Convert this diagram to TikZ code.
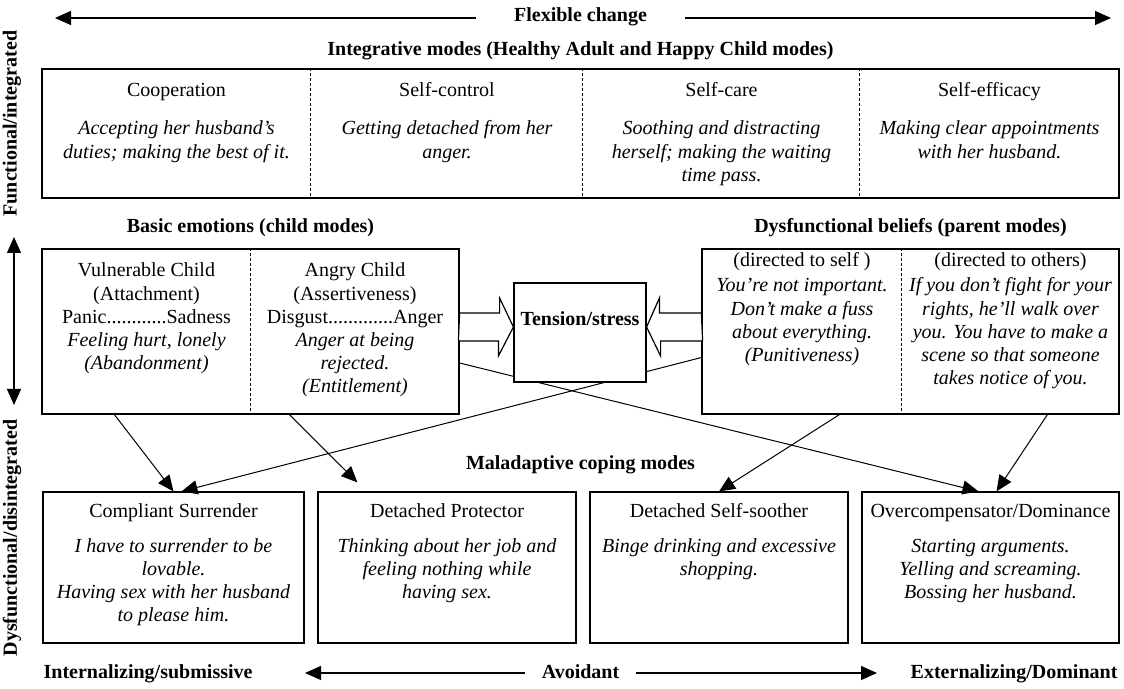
\documentclass[tikz,border=0pt]{standalone}
\usepackage{fontspec}
\setmainfont{Liberation Serif}
\usetikzlibrary{calc}
\usetikzlibrary{arrows.meta}

\begin{document}
\begin{tikzpicture}[x=0.5pt, y=-0.5pt, line width=0.6pt, >={Triangle[length=8pt,width=7pt]},
  every node/.style={font=\fontsize{10}{11.6}\selectfont},
  box/.style={draw, rectangle, inner sep=0pt},
  hd/.style={anchor=base, inner sep=0pt, font=\fontsize{10}{11.6}\selectfont\bfseries},
  col/.style={anchor=base, align=center, inner sep=0pt},
  colit/.style={col, font=\fontsize{10}{11.6}\selectfont\itshape},
  divider/.style={line width=0.4pt, dash pattern=on 1.5pt off 1pt},
  link/.style={->, line width=0.5pt}]
\useasboundingbox (0,0) rectangle (1124,689);

% top: flexible change
\node[hd, inner xsep=19pt] (flex) at (580.5,22) {Flexible change};
\coordinate (flexL) at (55,18);
\coordinate (flexR) at (1111,18);
\draw[->] (flex.west |- flexL) -- (flexL);
\draw[->] (flex.east |- flexR) -- (flexR);

% integrative modes (base = last line)
\node[hd] (integhd) at (580.5,56) {Integrative modes (Healthy Adult and Happy Child modes)};
\node[box, minimum width=538.5pt, minimum height=64.5pt] (integ) at (580.5,133.5) {};
\foreach \dx in {269,541,818}
  \draw[divider] ($(integ.north west)+(\dx,0)$) -- ($(integ.south west)+(\dx,0)$);

\node[col] (coop) at (176.5,97) {Cooperation};
\node[colit] (coopt) at (176.5,158.2) {Accepting her husband's\\duties; making the best of it.};
\node[col] (sctrl) at (447,97) {Self-control};
\node[colit] (sctrlt) at (447,158.2) {Getting detached from her\\anger.};
\node[col] (scare) at (721.5,97) {Self-care};
\node[colit] (scaret) at (721.5,181.4) {Soothing and distracting\\herself; making the waiting\\time pass.};
\node[col] (seff) at (989.5,97) {Self-efficacy};
\node[colit] (sefft) at (989.5,158.2) {Making clear appointments\\with her husband.};

% child modes
\node[hd] (emohd) at (250.5,233) {Basic emotions (child modes)};
\node[box, minimum width=208.5pt, minimum height=82.5pt] (emo) at (250.5,331.5) {};
\draw[divider] ($(emo.north west)+(209,0)$) -- ($(emo.south west)+(209,0)$);
\node[col] (vc) at (146.5,323.4) {Vulnerable Child\\(Attachment)\\Panic............Sadness};
\node[colit] (vct) at (146.5,369.8) {Feeling hurt, lonely\\(Abandonment)};
\node[col] (ac) at (355,323.4) {Angry Child\\(Assertiveness)\\Disgust.............Anger};
\node[colit] (act) at (355,393) {Anger at being\\rejected.\\(Entitlement)};

% parent modes
\node[hd] (belhd) at (910.5,233) {Dysfunctional beliefs (parent modes)};
\node[box, minimum width=208.5pt, minimum height=82.5pt] (bel) at (910.5,331.5) {};
\draw[divider] ($(bel.north west)+(200,0)$) -- ($(bel.south west)+(200,0)$);
\node[col] (dself) at (802,267) {(directed to self )};
\node[colit] (dselft) at (802,361.6) {You're not important.\\Don't make a fuss\\about everything.\\(Punitiveness)};
\node[col] (doth) at (1010.5,267) {(directed to others)};
\node[colit] (dotht) at (1010.5,384.8) {If you don't fight for your\\rights, he'll walk over\\you. You have to make a\\scene so that someone\\takes notice of you.};

% coping modes
\node[hd] (cophd) at (580.5,469) {Maladaptive coping modes};
\node[box, minimum width=130.5pt, minimum height=75.5pt] (cs) at (173.5,567.5) {};
\node[box, minimum width=129pt, minimum height=75.5pt] (dp) at (447,567.5) {};
\node[box, minimum width=129pt, minimum height=75.5pt] (dss) at (719,567.5) {};
\node[box, minimum width=128.5pt, minimum height=75.5pt] (oc) at (990.5,567.5) {};

\node[col] (csh) at (173.5,517) {Compliant Surrender};
\node[colit] (cst) at (173.5,621.6) {I have to surrender to be\\lovable.\\Having sex with her husband\\to please him.};
\node[col] (dph) at (447,517) {Detached Protector};
\node[colit] (dpt) at (447,598.4) {Thinking about her job and\\feeling nothing while\\having sex.};
\node[col] (dssh) at (719,517) {Detached Self-soother};
\node[colit] (dsst) at (719,575.2) {Binge drinking and excessive\\shopping.};
\node[col] (och) at (990.5,517) {Overcompensator/Dominance};
\node[colit] (oct) at (990.5,598.4) {Starting arguments.\\Yelling and screaming.\\Bossing her husband.};

% links to the coping modes
\draw[link] ($(emo.south west)+(73,0)$) -- (cs.north);
\draw[link] ($(emo.south west)+(248,0)$) -- ($(dp.north west)+(40,-9)$);
\draw[link] ($(bel.west)+(0,26)$) -- ($(cs.north)+(8,0)$);
\draw[link] ($(emo.east)+(0,31.5)$) -- ($(oc.north)+(-12,0)$);
\draw[link] ($(bel.south west)+(138,0)$) -- (dss.north);
\draw[link] ($(bel.south west)+(346,0)$) -- ($(oc.north)+(6,0)$);

% tension in the middle
\node[box, fill=white, minimum width=66pt, minimum height=49.5pt, font=\fontsize{10}{11.6}\selectfont\bfseries, text height=7pt, text depth=13.5pt] (stress) at (580,332.5) {Tension/stress};
\coordinate (ltip) at ($(stress.west)+(0,-5.5)$);
\coordinate (rtip) at ($(stress.east)+(0,-5.5)$);
\draw[fill=white] ($(emo.east |- ltip)+(0,-14)$) -- ++(40,0) -- ++(0,-15) -- (ltip) -- ++(-15,29) -- ++(0,-15) -- ++(-40,0) -- cycle;
\draw[fill=white] ($(bel.west |- rtip)+(0,-14)$) -- ++(-42,0) -- ++(0,-15) -- (rtip) -- ++(14,29) -- ++(0,-15) -- ++(42,0) -- cycle;

% left side
\coordinate (vtop) at (14,237);
\coordinate (vbot) at (14,405);
\draw[<->] (vtop) -- (vbot);
\node[hd, rotate=90, anchor=west] (func) at (12,217) {Functional/integrated};
\node[hd, rotate=90, anchor=west] (dysf) at (12,657) {Dysfunctional/disintegrated};

% bottom
\node[hd, anchor=base west] (intl) at (43,678) {Internalizing/submissive};
\node[hd, anchor=base east] (extl) at (1118,678) {Externalizing/Dominant};
\node[hd, inner xsep=8pt] (avoid) at (580.5,678) {Avoidant};
\coordinate (avL) at (305,673);
\coordinate (avR) at (877,673);
\draw[->] (avoid.west |- avL) -- (avL);
\draw[->] (avoid.east |- avR) -- (avR);

\end{tikzpicture}
\end{document}
